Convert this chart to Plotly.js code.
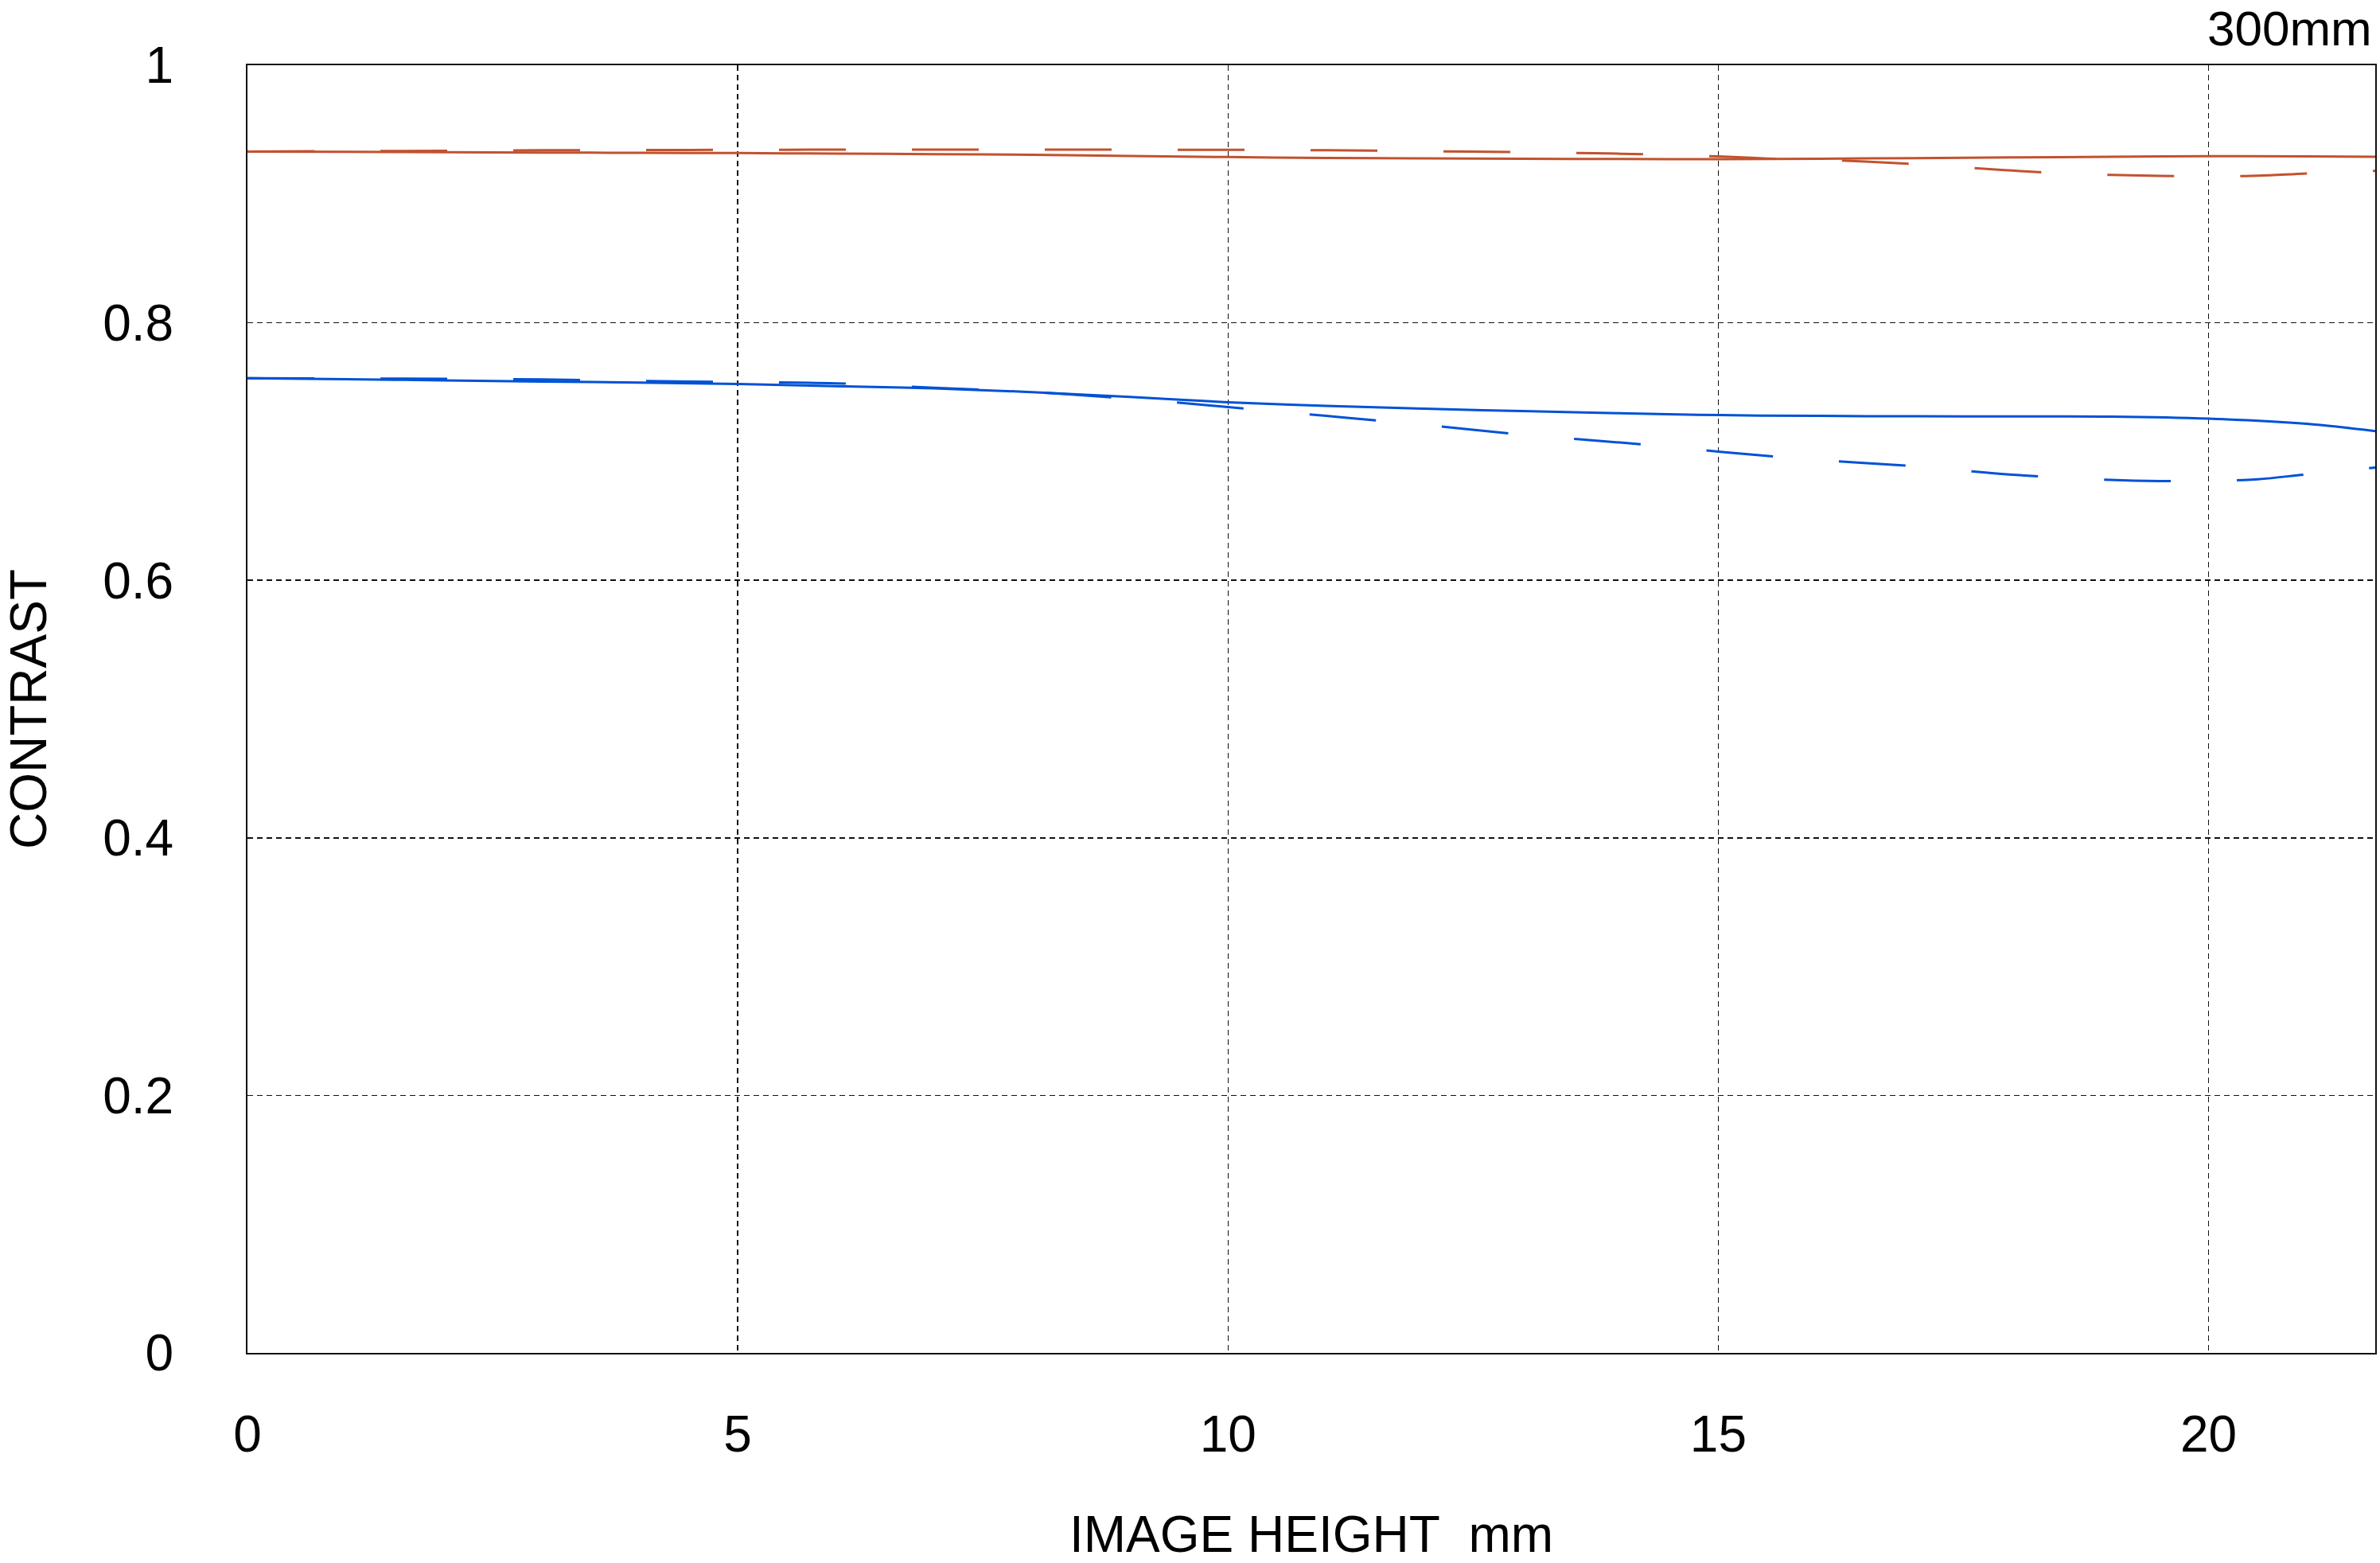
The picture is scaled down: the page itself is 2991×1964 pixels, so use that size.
<!DOCTYPE html>
<html>
<head>
<meta charset="utf-8">
<script src="https://cdn.plot.ly/plotly-3.0.1.min.js"></script>
<style>
  html, body { margin: 0; padding: 0; background: #ffffff; }
  #chart { width: 2991px; height: 1964px; }
</style>
</head>
<body>
<div id="chart"></div>
<script>
// Image height (mm)
const imageHeight = [0, 1, 2, 3, 4, 5, 6, 7, 8, 9, 10, 11, 12, 13, 14, 15, 16, 17, 18, 19, 20, 21, 21.7];

// Orange (10 lp/mm) – sagittal (solid) and meridional (dashed)
const orangeSolid = [0.933, 0.9328, 0.9325, 0.9322, 0.932, 0.9318, 0.9314, 0.931, 0.9305, 0.9296, 0.9287, 0.928, 0.9277, 0.9274, 0.9272, 0.927, 0.9274, 0.9279, 0.9284, 0.9289, 0.9294, 0.9292, 0.929];
const orangeDashedX = [0, 1, 2, 3, 4, 5, 6, 7, 8, 9, 10, 11, 12, 13, 14, 15, 15.5, 16, 16.5, 17, 17.5, 18, 18.5, 19, 19.5, 20, 20.5, 21, 21.7];
const orangeDashed = [0.933, 0.9333, 0.9336, 0.934, 0.9342, 0.9343, 0.9345, 0.9345, 0.9345, 0.9344, 0.9343, 0.934, 0.9333, 0.9325, 0.9313, 0.9292, 0.9276, 0.9266, 0.9252, 0.9233, 0.9207, 0.9182, 0.916, 0.9148, 0.9141, 0.9138, 0.9142, 0.916, 0.918];

// Blue (30 lp/mm) – sagittal (solid) and meridional (dashed)
const blueSolid = [0.757, 0.7562, 0.7553, 0.7544, 0.7535, 0.7524, 0.7508, 0.749, 0.7462, 0.7425, 0.7383, 0.7355, 0.7333, 0.7314, 0.7298, 0.7283, 0.7277, 0.7274, 0.7273, 0.7272, 0.7256, 0.7215, 0.7158];
const blueDashedX = [0, 1, 2, 3, 4, 5, 6, 7, 8, 9, 9.5, 10, 11, 12, 13, 14, 15, 16, 17, 18, 19, 19.5, 20, 20.5, 21, 21.7];
const blueDashed = [0.757, 0.7568, 0.7565, 0.756, 0.7548, 0.754, 0.753, 0.7495, 0.7462, 0.741, 0.738, 0.7345, 0.7277, 0.7207, 0.7132, 0.707, 0.7, 0.6935, 0.6886, 0.682, 0.678, 0.6771, 0.6772, 0.6785, 0.6823, 0.6876];

const xTicks = [0, 5, 10, 15, 20];
const xTickText = ['0', '5', '10', '15', '20'];
const yTicks = [0, 0.2, 0.4, 0.6, 0.8, 1];
const yTickText = ['0', '0.2', '0.4', '0.6', '0.8', '1'];

const ORANGE = '#C2522F';
const BLUE = '#0052D6';
const FONT = '"Liberation Sans", Arial, Helvetica, sans-serif';
const DASH = '84px,83px';

const traces = [
  { x: imageHeight, y: orangeSolid, mode: 'lines', line: { color: ORANGE, width: 3, shape: 'spline' }, hoverinfo: 'x+y' },
  { x: orangeDashedX, y: orangeDashed, mode: 'lines', line: { color: ORANGE, width: 3, dash: DASH, shape: 'spline' }, hoverinfo: 'x+y' },
  { x: imageHeight, y: blueSolid, mode: 'lines', line: { color: BLUE, width: 3, shape: 'spline' }, hoverinfo: 'x+y' },
  { x: blueDashedX, y: blueDashed, mode: 'lines', line: { color: BLUE, width: 3, dash: DASH, shape: 'spline' }, hoverinfo: 'x+y' }
];

const layout = {
  width: 2991,
  height: 1964,
  margin: { l: 311, r: 6, t: 82, b: 264 },
  paper_bgcolor: '#ffffff',
  plot_bgcolor: '#ffffff',
  showlegend: false,
  font: { family: FONT, size: 64, color: '#000000' },
  xaxis: {
    range: [0, 21.7],
    tickmode: 'array',
    tickvals: xTicks,
    ticktext: xTickText,
    ticks: 'outside',
    ticklen: 45,
    tickcolor: 'rgba(0,0,0,0)',
    tickfont: { family: FONT, size: 64, color: '#000' },
    showgrid: true,
    gridcolor: '#111111',
    gridwidth: 1.5,
    griddash: '7px,5px',
    zeroline: false,
    showline: true,
    mirror: true,
    linecolor: '#111111',
    linewidth: 2,
    automargin: false,
    title: { text: 'IMAGE HEIGHT\u00a0 mm', font: { family: FONT, size: 64, color: '#000' }, standoff: 78 }
  },
  yaxis: {
    range: [0, 1],
    tickmode: 'array',
    tickvals: yTicks,
    ticktext: yTickText,
    ticks: 'outside',
    ticklen: 78,
    tickcolor: 'rgba(0,0,0,0)',
    tickfont: { family: FONT, size: 64, color: '#000' },
    showgrid: true,
    gridcolor: '#111111',
    gridwidth: 1.5,
    griddash: '7px,5px',
    zeroline: false,
    showline: true,
    mirror: true,
    linecolor: '#111111',
    linewidth: 2,
    automargin: false,
    title: { text: 'CONTRAST', font: { family: FONT, size: 64, color: '#000' }, standoff: 72 }
  },
  annotations: [
    {
      text: '300mm',
      xref: 'paper', yref: 'paper',
      x: 1, y: 1.029,
      xanchor: 'right', yanchor: 'middle',
      xshift: -2,
      showarrow: false,
      font: { family: FONT, size: 62, color: '#000' }
    }
  ]
};

Plotly.newPlot('chart', traces, layout, { displayModeBar: false, staticPlot: true });
</script>
</body>
</html>
